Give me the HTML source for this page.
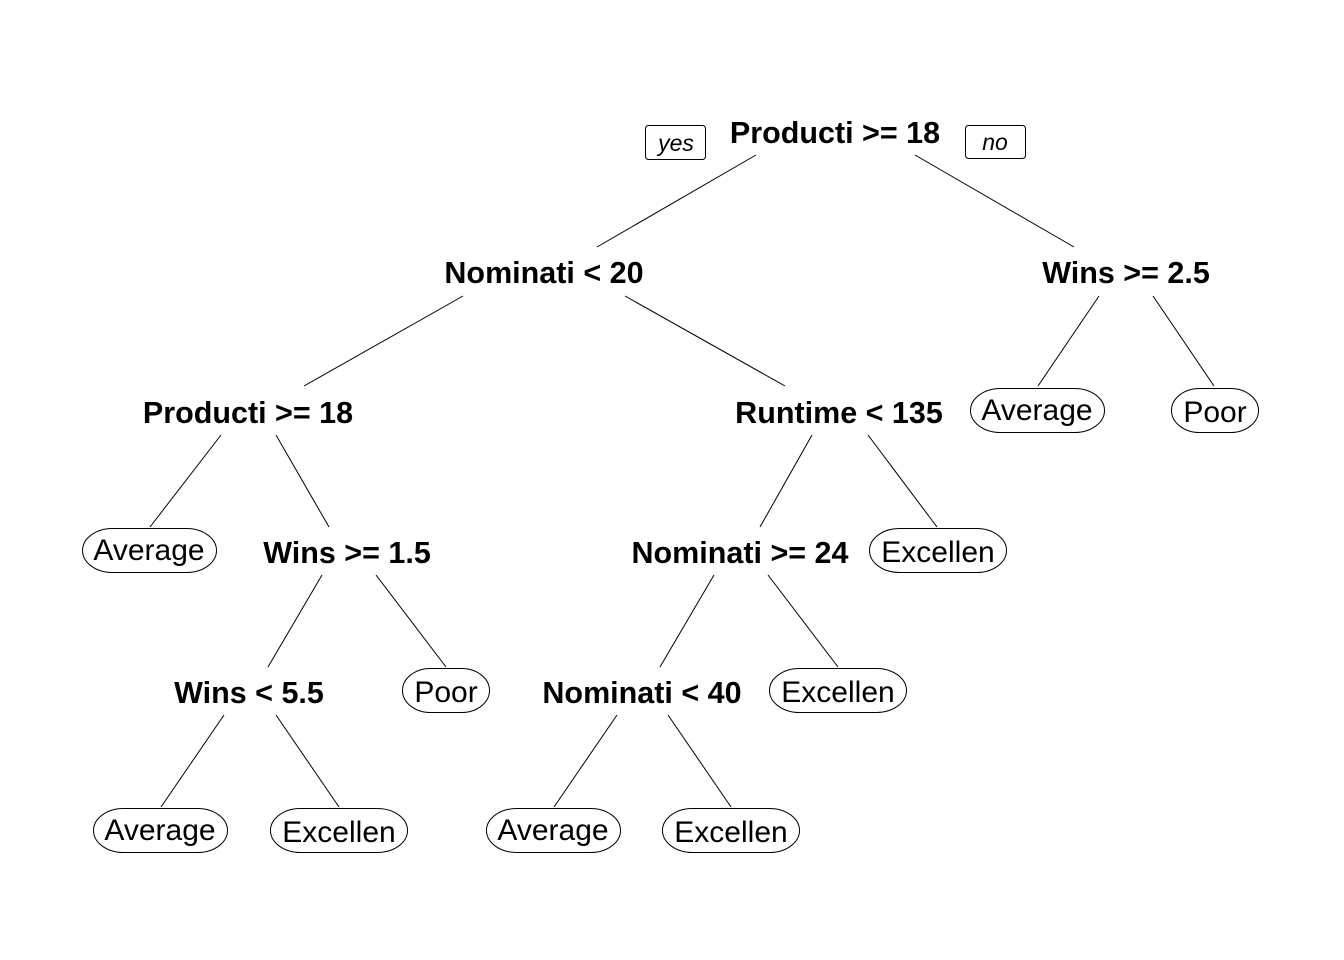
<!DOCTYPE html>
<html><head><meta charset="utf-8"><style>
html,body{margin:0;padding:0;background:#fff}
svg{display:block}
text{font-family:"Liberation Sans",Arial,sans-serif;font-size:30px;fill:#000}
.b{font-weight:bold;font-size:30.5px}
</style></head><body>
<svg width="1344" height="960" viewBox="0 0 1344 960" xmlns="http://www.w3.org/2000/svg">
<g stroke="#000" stroke-width="1" fill="none">
<line x1="756" y1="155" x2="597" y2="247"/><line x1="915" y1="155" x2="1074" y2="247"/>
<line x1="463" y1="296" x2="304" y2="386"/><line x1="625" y1="296" x2="785" y2="386"/>
<line x1="1099" y1="296" x2="1038" y2="386"/><line x1="1153" y1="296" x2="1214" y2="386"/>
<line x1="221" y1="435" x2="150" y2="527"/><line x1="276" y1="435" x2="329" y2="527"/>
<line x1="812" y1="435" x2="760" y2="527"/><line x1="868" y1="435" x2="937" y2="527"/>
<line x1="322" y1="575" x2="268" y2="667"/><line x1="376" y1="575" x2="446" y2="667"/>
<line x1="714" y1="575" x2="660" y2="667"/><line x1="768" y1="575" x2="838" y2="667"/>
<line x1="224" y1="715" x2="161" y2="807"/><line x1="276" y1="715" x2="339" y2="807"/>
<line x1="617" y1="715" x2="554" y2="807"/><line x1="668" y1="715" x2="731" y2="807"/>
<rect x="645.5" y="125.5" width="60" height="34" rx="3"/>
<rect x="965.5" y="125.5" width="60" height="33" rx="3"/>
<rect x="970.5" y="388.5" width="134" height="44" rx="30" ry="22"/>
<rect x="1171.5" y="388.5" width="87" height="44" rx="28" ry="22"/>
<rect x="82.5" y="528.5" width="134" height="44" rx="30" ry="22"/>
<rect x="869.5" y="528.5" width="137" height="44" rx="30" ry="22"/>
<rect x="402.5" y="668.5" width="87" height="44" rx="28" ry="22"/>
<rect x="769.5" y="668.5" width="137" height="44" rx="30" ry="22"/>
<rect x="93.5" y="808.5" width="134" height="44" rx="30" ry="22"/>
<rect x="270.5" y="808.5" width="137" height="44" rx="30" ry="22"/>
<rect x="486.5" y="808.5" width="134" height="44" rx="30" ry="22"/>
<rect x="662.5" y="808.5" width="137" height="44" rx="30" ry="22"/>
</g>
<g text-anchor="middle">
<text x="676" y="151" style="font-style:italic;font-size:23px">yes</text>
<text x="995" y="150" style="font-style:italic;font-size:23px">no</text>
<text class="b" x="835" y="143">Producti &gt;= 18</text>
<text class="b" x="544" y="283">Nominati &lt; 20</text>
<text class="b" x="1126" y="283">Wins &gt;= 2.5</text>
<text class="b" x="248" y="423">Producti &gt;= 18</text>
<text class="b" x="839" y="423">Runtime &lt; 135</text>
<text x="1037" y="420">Average</text>
<text x="1215" y="422">Poor</text>
<text x="149" y="560">Average</text>
<text class="b" x="347" y="563">Wins &gt;= 1.5</text>
<text class="b" x="740" y="563">Nominati &gt;= 24</text>
<text x="938" y="562">Excellen</text>
<text class="b" x="249" y="703">Wins &lt; 5.5</text>
<text x="446" y="702">Poor</text>
<text class="b" x="642" y="703">Nominati &lt; 40</text>
<text x="838" y="702">Excellen</text>
<text x="160" y="840">Average</text>
<text x="339" y="842">Excellen</text>
<text x="553" y="840">Average</text>
<text x="731" y="842">Excellen</text>
</g>
</svg>
</body></html>
